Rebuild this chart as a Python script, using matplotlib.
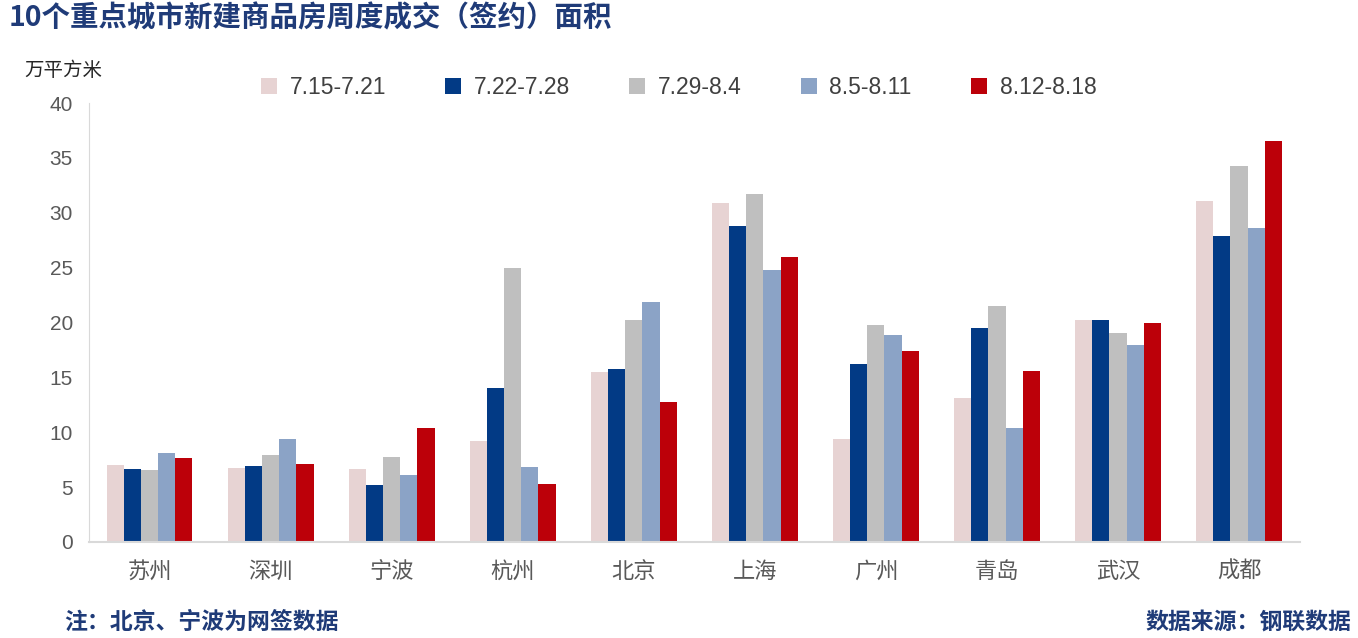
import matplotlib
matplotlib.use("Agg")
import matplotlib.pyplot as plt
import numpy as np
from matplotlib.patches import Patch

plt.rcParams['font.family'] = ['Noto Sans CJK SC', 'DejaVu Sans']

cities = ["苏州", "深圳", "宁波", "杭州", "北京", "上海", "广州", "青岛", "武汉", "成都"]
weeks = ["7.15-7.21", "7.22-7.28", "7.29-8.4", "8.5-8.11", "8.12-8.18"]
w1 = [7.0, 6.7, 6.65, 9.2, 15.5, 30.9, 9.4, 13.1, 20.2, 31.1]
w2 = [6.65, 6.9, 5.2, 14.0, 15.8, 28.8, 16.2, 19.5, 20.2, 27.9]
w3 = [6.55, 7.9, 7.75, 25.0, 20.2, 31.7, 19.8, 21.5, 19.05, 34.3]
w4 = [8.1, 9.4, 6.1, 6.85, 21.9, 24.8, 18.85, 10.4, 17.95, 28.6]
w5 = [7.65, 7.1, 10.4, 5.3, 12.8, 26.0, 17.4, 15.6, 19.95, 36.5]
series = [w1, w2, w3, w4, w5]
colors = ["#E7D3D3", "#023A85", "#BFBFBF", "#8BA3C6", "#BC0009"]

fig = plt.figure(figsize=(13.58, 6.38), dpi=100)
ax = fig.add_axes([0.0655, 0.1505, 0.8915, 0.688])

x = np.arange(len(cities))
bw = 0.142
for i, (vals, c) in enumerate(zip(series, colors)):
    ax.bar(x + (i - 2) * bw, vals, width=bw, color=c, label=weeks[i], linewidth=0)

ax.set_xlim(-0.5, len(cities) - 0.5)
ax.set_ylim(0, 40)
ax.set_yticks(np.arange(0, 41, 5))
ax.set_xticks(x)
ax.set_xticklabels(cities, fontsize=16, color="#595959")
ax.tick_params(axis='y', labelsize=15, colors="#595959", length=0, pad=11.5)
ax.tick_params(axis='x', length=0, pad=13)
for lab in ax.get_yticklabels():
    lab.set_fontfamily(['Liberation Sans', 'DejaVu Sans'])
for s in ['top', 'right']:
    ax.spines[s].set_visible(False)
ax.spines['left'].set_color("#D9D9D9")
ax.spines['bottom'].set_color("#D9D9D9")
ax.spines['bottom'].set_linewidth(1.5)

handles = [Patch(facecolor=c, edgecolor='none') for c in colors]
leg = fig.legend(handles, weeks, loc='center left', bbox_to_anchor=(0.177, 0.863),
                 ncol=5, frameon=False, handlelength=0.7, handleheight=0.7,
                 handletextpad=0.55, columnspacing=2.58,
                 prop={'family': ['Liberation Sans', 'DejaVu Sans'], 'size': 16.5})
for t in leg.get_texts():
    t.set_color("#404040")

fig.text(0.006, 0.971, "10个重点城市新建商品房周度成交（签约）面积", fontsize=20.5,
         fontweight='bold', color="#1F3B78", va='center', ha='left')
fig.text(0.018, 0.89, "万平方米", fontsize=14, color="#262626", va='center', ha='left')
fig.text(0.047, 0.025, "注：北京、宁波为网签数据", fontsize=16.5, fontweight='bold',
         color="#1F3B78", va='center', ha='left')
fig.text(0.995, 0.025, "数据来源：钢联数据", fontsize=16.5, fontweight='bold',
         color="#1F3B78", va='center', ha='right')

fig.savefig("out.png", dpi=100)
